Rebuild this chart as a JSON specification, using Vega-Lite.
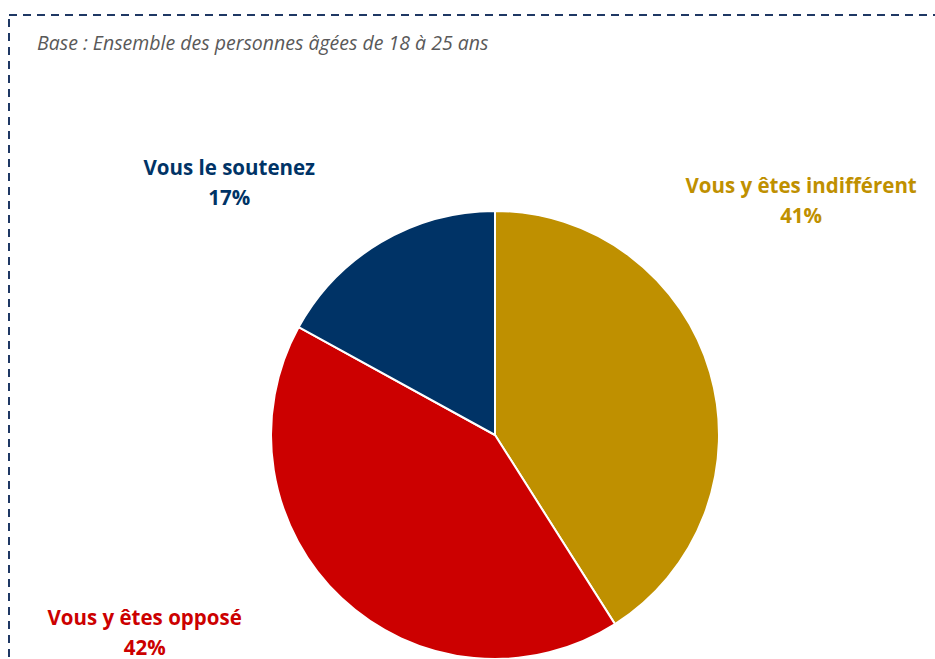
{
  "$schema": "https://vega.github.io/schema/vega-lite/v6.json",
  "autosize": {"type": "none"},
  "padding": {"left": 9, "top": 15, "right": 0, "bottom": 0},
  "width": 972,
  "height": 840,
  "background": "white",
  "view": {"stroke": "#1F3864", "strokeDash": [8, 6], "strokeWidth": 2},
  "title": {
    "text": "Base : Ensemble des personnes âgées de 18 à 25 ans",
    "anchor": "start",
    "orient": "top",
    "offset": -52,
    "dx": 28,
    "font": "Open Sans",
    "fontStyle": "italic",
    "fontWeight": "normal",
    "fontSize": 19.5,
    "color": "#595959"
  },
  "data": {
    "values": [
      {"reponse": "Vous y êtes indifférent", "pct": 41, "rang": 1},
      {"reponse": "Vous y êtes opposé", "pct": 42, "rang": 2},
      {"reponse": "Vous le soutenez", "pct": 17, "rang": 3}
    ]
  },
  "transform": [
    {"calculate": "datum.reponse + '\\n' + datum.pct + '%'", "as": "etiquette"}
  ],
  "encoding": {
    "theta": {"field": "pct", "type": "quantitative", "stack": true},
    "order": {"field": "rang", "type": "quantitative"},
    "color": {
      "field": "reponse",
      "type": "nominal",
      "scale": {
        "domain": ["Vous y êtes indifférent", "Vous y êtes opposé", "Vous le soutenez"],
        "range": ["#BF9000", "#CC0000", "#003366"]
      },
      "legend": null
    }
  },
  "layer": [
    {
      "mark": {"type": "arc", "outerRadius": 224, "stroke": "white", "strokeWidth": 2}
    },
    {
      "mark": {"type": "text", "radius": 300, "dx": 18, "dy": -164, "font": "Open Sans", "fontWeight": "bold", "fontSize": 20.5, "lineBreak": "\n", "lineHeight": 30, "align": "center", "baseline": "middle"},
      "encoding": {
        "text": {"condition": {"test": "datum.rang == 1", "field": "etiquette"}, "value": ""}
      }
    },
    {
      "mark": {"type": "text", "radius": 300, "dx": -145, "dy": -35, "font": "Open Sans", "fontWeight": "bold", "fontSize": 20.5, "lineBreak": "\n", "lineHeight": 30, "align": "center", "baseline": "middle"},
      "encoding": {
        "text": {"condition": {"test": "datum.rang == 2", "field": "etiquette"}, "value": ""}
      }
    },
    {
      "mark": {"type": "text", "radius": 300, "dx": -113, "dy": -8, "font": "Open Sans", "fontWeight": "bold", "fontSize": 20.5, "lineBreak": "\n", "lineHeight": 30, "align": "center", "baseline": "middle"},
      "encoding": {
        "text": {"condition": {"test": "datum.rang == 3", "field": "etiquette"}, "value": ""}
      }
    }
  ]
}
